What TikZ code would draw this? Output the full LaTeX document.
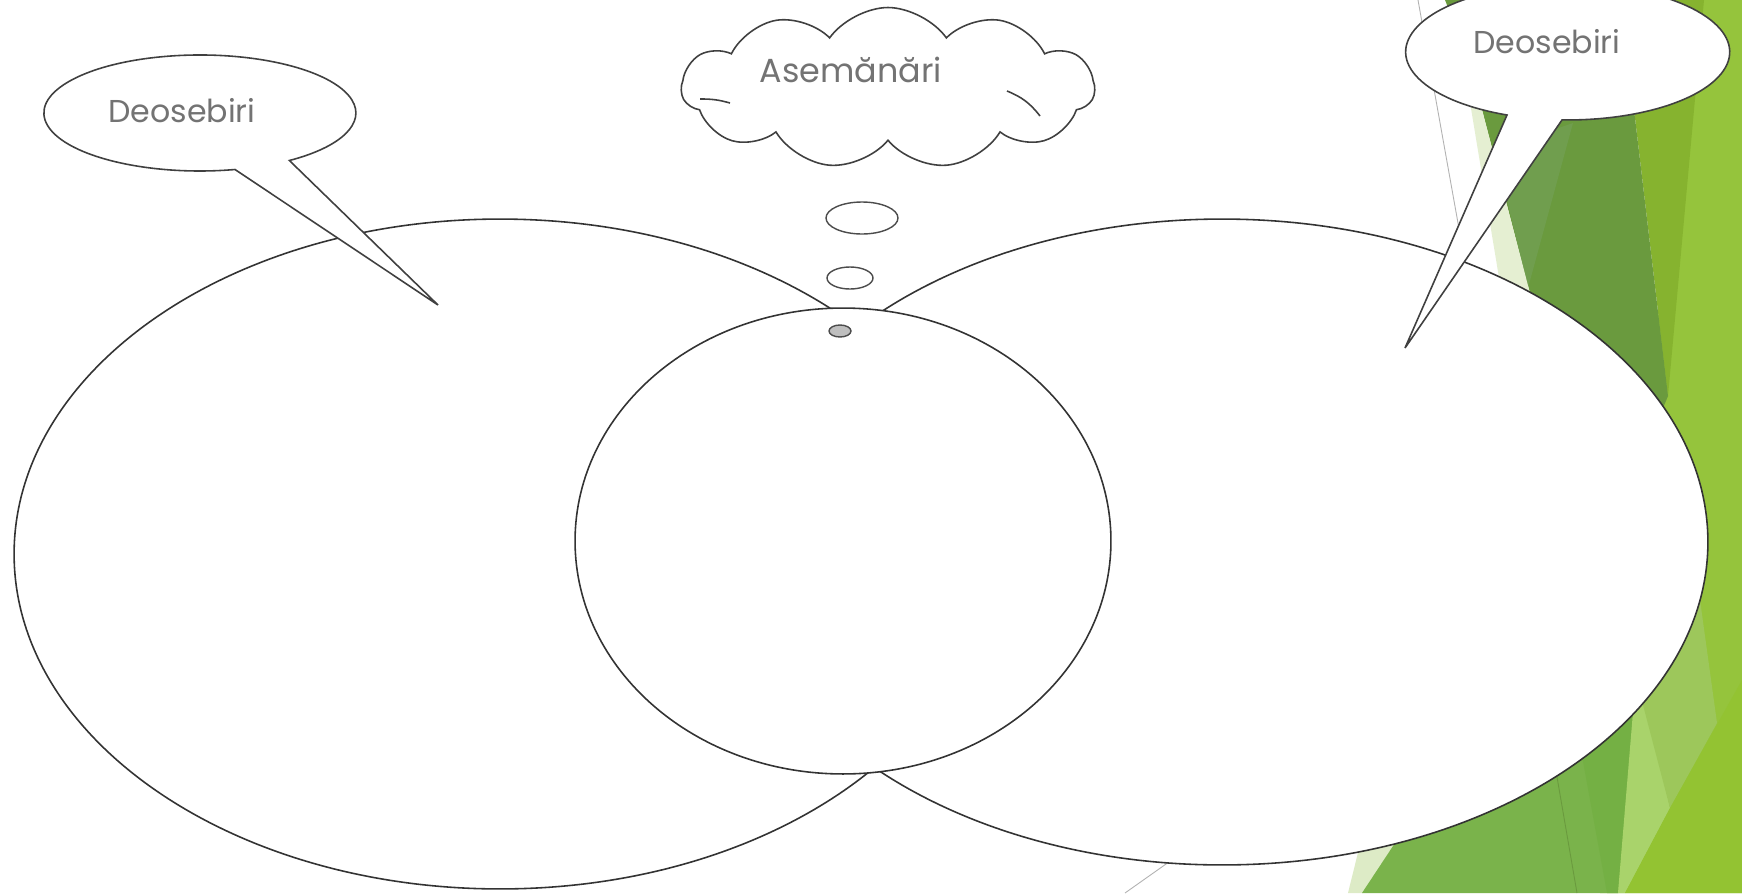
\documentclass[tikz,border=0pt]{standalone}
\usepackage{fontspec}
\setmainfont{Poppins}
\usetikzlibrary{shapes, positioning}

\definecolor{facetbright}{HTML}{95C43C}
\definecolor{facetmid}{HTML}{86B32F}
\definecolor{facetdark}{HTML}{6A9A3E}
\definecolor{facetolive}{HTML}{709E4E}
\definecolor{facetpale}{HTML}{E5EFD2}
\definecolor{facetpaleb}{HTML}{DDEBC6}
\definecolor{facetgrass}{HTML}{7AB34B}
\definecolor{facetgrassb}{HTML}{74B044}
\definecolor{facetlime}{HTML}{A9D36B}
\definecolor{facetlight}{HTML}{9DC75B}
\definecolor{facetbrightb}{HTML}{93C332}

\tikzset{
  setbox/.style={
    ellipse, draw=black!80, fill=white, line width=0.9pt, inner sep=0pt,
  },
  bubble/.style={
    ellipse, draw=black!70, fill=white, line width=0.8pt, inner sep=0pt,
  },
  thought/.style={
    cloud, cloud puffs=11, cloud puff arc=110, aspect=2.6,
    draw=black!75, fill=white, line width=0.9pt, inner sep=0pt,
    minimum width=8.26cm, minimum height=3.22cm,
  },
  callout/.style={
    draw=black!75, fill=white, line width=0.9pt, line join=miter,
  },
  curl/.style={
    draw=black!75, line width=0.9pt,
  },
  tlabel/.style={
    font=\fontsize{18}{20}\selectfont, text=black!55, anchor=base, inner sep=0pt,
  },
  seam/.style={
    draw=black!30, line width=0.5pt,
  }
}

\begin{document}
\begin{tikzpicture}[x=0.02cm, y=-0.02cm]

  \clip (0,0) rectangle (1742,893);
  \fill[white] (0,0) rectangle (1742,893);

  % facets, right edge
  \fill[facetbright] (1690,0) -- (1742,0) -- (1742,893) -- (1600,893) -- cycle;
  \fill[facetmid] (1621,0) -- (1704,0) -- (1668,396) -- cycle;
  \fill[facetdark] (1445,0) -- (1621,0) -- (1668,396) -- (1600,560)
    -- (1537,320) -- (1469,60) -- cycle;
  \fill[facetolive] (1495,150) -- (1573,123) -- (1528,288) -- cycle;
  \fill[facetpale] (1463,60) -- (1469,60) -- (1537,320) -- (1506,320) -- cycle;

  \fill[facetpaleb] (1348,893) -- (1371,800) -- (1430,790) -- (1363,893) -- cycle;
  \fill[facetgrass] (1362,893) -- (1430,790) -- (1620,680) -- (1633,717)
    -- (1618,893) -- cycle;
  \fill[facetgrassb] (1580,745) -- (1635,700) -- (1618,893) -- (1607,893) -- cycle;
  \fill[facetlime] (1633,712) -- (1645,700) -- (1670,808) -- (1625,893)
    -- (1618,893) -- cycle;
  \fill[facetlight] (1643,705) -- (1700,600) -- (1717,723) -- (1670,808) -- cycle;
  \fill[facetbrightb] (1670,808) -- (1742,680) -- (1742,893) -- (1625,893) -- cycle;
  \draw[facetdark, line width=0.5pt] (1557,777) -- (1577,893);

  \draw[seam] (1418,0) -- (1470,290);
  \draw[seam] (1125,893) -- (1200,840);

  % the three sets
  \node[setbox, minimum width=19.44cm, minimum height=13.4cm] (setleft) at (500,554) {};
  \node[setbox, minimum width=19.44cm, minimum height=12.92cm] (setright) at (1222,542) {};
  \node[setbox, minimum width=10.72cm, minimum height=9.32cm] (common) at (843,541) {};

  % thought cloud
  \node[bubble, fill=black!25, minimum width=0.44cm, minimum height=0.24cm] (dotc) at (840,331) {};
  \node[bubble, minimum width=0.92cm, minimum height=0.44cm] (dotb) at (850,278) {};
  \node[bubble, minimum width=1.44cm, minimum height=0.64cm] (dota) at (862,218) {};
  \node[thought] (cloudbox) at (888,88) {};
  \draw[curl] (700,99) to[bend left=8] (730,103);
  \draw[curl] (1007,91) to[bend left=15] (1040,116);
  \node[tlabel, font=\fontsize{19}{21}\selectfont] (same) at (851,82) {Asemănări};

  % callouts
  \draw[callout] (235,169.5) arc[start angle=77, end angle=415, x radius=156, y radius=58]
    -- (438,305) -- cycle;
  \node[tlabel] (diffleft) at (182,122) {Deosebiri};

  \draw[callout] (1507,115) arc[start angle=112, end angle=452, x radius=162, y radius=68]
    -- (1405,348) -- cycle;
  \node[tlabel] (diffright) at (1547,53) {Deosebiri};

\end{tikzpicture}
\end{document}
